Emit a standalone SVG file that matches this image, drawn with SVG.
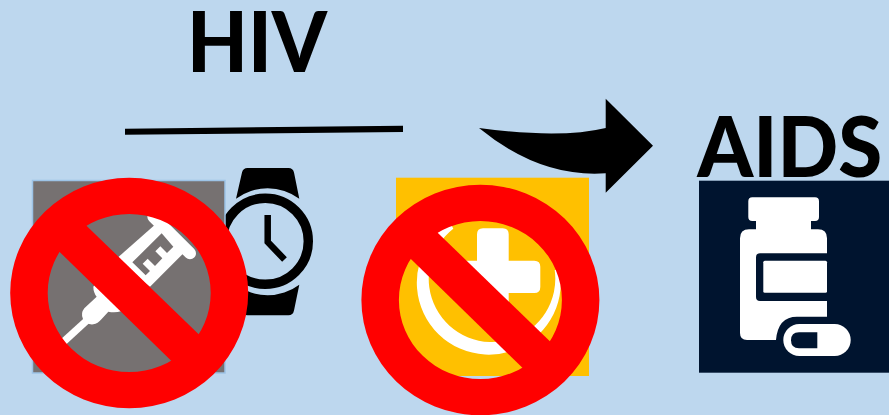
<svg xmlns="http://www.w3.org/2000/svg" width="889" height="415" viewBox="0 0 889 415">
<style>
.t{font-family:Lato,"Liberation Sans",sans-serif;font-weight:900;font-size:84px;fill:#000}
.w{fill:#fff}
.n{fill:#00142F}
.k{fill:#000}
</style>
<defs>
<g id="no">
<path fill="#f00" fill-rule="evenodd" d="M-119 0A119 115.3 0 1 1 119 0A119 115.3 0 1 1 -119 0ZM-81.5 0A81.5 79 0 1 0 81.5 0A81.5 79 0 1 0 -81.5 0Z"/>
<polygon fill="#f00" points="-50,-74.3 78,49.5 51,76.5 -77,-48.3"/>
</g>
</defs>
<rect width="889" height="415" fill="#BDD7EE"/>
<g id="connectors">
<polygon class="k" points="125,128.7 403,125.7 403,132 125,134.7"/>
<path class="k" d="M479 128Q560 139 605.7 128V98.7L653 145.7L605.7 192.7V173.3Q540 178 479 128Z"/>
</g>
<g id="hiv"><text class="t" x="187" y="72.3" textLength="140" lengthAdjust="spacingAndGlyphs">HIV</text></g>
<g id="aids"><text class="t" x="697.3" y="177" textLength="185" lengthAdjust="spacingAndGlyphs">AIDS</text></g>
<g id="watch">
<path class="k" d="M236 198.7L242 172.5Q243 168 247.5 168H288.5Q293 168 294 172.5L299.3 198.7A53 53 0 0 0 236 198.7Z"/>
<path class="k" d="M236 284.7L242 310.5Q243 315.3 247.5 315.3H288.5Q293 315.3 294 310.5L299.3 284.7A53 53 0 0 1 236 284.7Z"/>
<circle cx="265.3" cy="241.3" r="43" fill="none" stroke="#000" stroke-width="9.4"/>
<path d="M267.7 215V242L284.5 259.5" fill="none" stroke="#000" stroke-width="6.5"/>
</g>
<g id="syringe-node">
<rect x="32.5" y="180.5" width="192.5" height="192.5" fill="#767171" stroke="#9DC3E6" stroke-width="1.5"/>
<g transform="translate(55 205) scale(.33333)">
<path d="M295 35L405 145" stroke="#fff" stroke-width="36" stroke-linecap="round" fill="none"/>
<polygon class="w" points="310,50 390,140 285,245 180,165"/>
<polygon fill="#767171" points="320,85 355,125 336,144 316,124 301,139 322,160 300,183 278,161 263,176 285,198 272,211 232,172"/>
<path class="w" d="M115 245Q115 262 125 275L88 310Q76 325 84 342Q94 360 115 358Q128 356 140 342L160 320Q180 325 200 318L240 230L150 200Z"/>
<path d="M15 420L95 347" stroke="#fff" stroke-width="22" fill="none"/>
</g>
<use href="#no" x="129.2" y="293"/>
</g>
<g id="health-node">
<rect x="396" y="177.7" width="193" height="198.3" fill="#FFC000"/>
<path class="w" d="M559.7 270A72 72 0 1 1 450 222L453.3 228.7A63.3 63.3 0 1 0 554.7 270Z"/>
<path class="w" d="M483 228.3H502.7Q508.7 228.3 508.7 234.3V260.7H534.3Q540.3 260.7 540.3 266.7V287Q540.3 293 534.3 293H508.7V319Q508.7 325 502.7 325H483Q477 325 477 319V293H451Q445 293 445 287V266.7Q445 260.7 451 260.7H477V234.3Q477 228.3 483 228.3Z"/>
<use href="#no" x="480.4" y="300"/>
</g>
<g id="bottle-node">
<rect class="n" x="699" y="180.7" width="190" height="192"/>
<path class="w" d="M752.3 197.3H815Q819 197.3 819 201.3V217Q819 221 815 221H811V229.3H818Q827 229.3 827 238.3V253.3H760Q756 253.3 756 257.3V297Q756 301 760 301H827V316.7H797Q778 316.7 776 340H747Q740 340 740 333V238.3Q740 229.3 749 229.3H756V221H752.3Q748.3 221 748.3 217V201.3Q748.3 197.3 752.3 197.3Z"/>
<rect class="w" x="763.3" y="260.7" width="63.7" height="32" rx="1.5"/>
<rect class="w" x="783.3" y="324" width="67.4" height="32" rx="16"/>
<path class="n" d="M817.3 332.3H799Q791 332.3 791 340.3Q791 348.3 799 348.3H817.3Z"/>
</g>
</svg>
